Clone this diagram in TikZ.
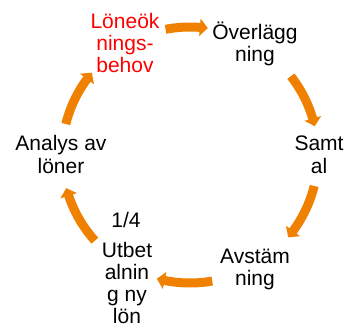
\documentclass[tikz,border=0pt]{standalone}
\usepackage{fontspec}
\setmainfont{Liberation Sans}
\usetikzlibrary{arrows.meta,bending}
\definecolor{arroworange}{RGB}{240,128,0}
\definecolor{labelred}{RGB}{255,0,0}
\begin{document}
\begin{tikzpicture}[x=1pt,y=1pt,
  lbl/.style={align=center,inner sep=0pt,anchor=base,font=\fontsize{21}{22}\selectfont},
  cyc/.style={draw=arroworange,line width=9pt,
    -{Triangle[width=17pt,length=8pt,bend]}}]
\useasboundingbox (0,0) rectangle (347,324);
\coordinate (C) at (190,169);
% text nodes (anchored at the baseline of the last line)
\node[lbl,text=labelred] (need) at (125,251) {Löneök\\nings-\\behov};
\node[lbl] (meet) at (255,262) {Överlägg\\ning};
\node[lbl] (talk) at (319,151) {Samt\\al};
\node[lbl] (match) at (255,39) {Avstäm\\ning};
\node[lbl] (frac) at (126,97) {1/4};
\node[lbl] (pay) at (127,1) {Utbet\\alnin\\g ny\\lön};
\node[lbl] (anal) at (61,151) {Analys av\\löner};
% arrow tails
\path (C) ++(101:128) coordinate (a1)
      (C) ++(38:128) coordinate (a2)
      (C) ++(-14:128) coordinate (a3)
      (C) ++(-80:128) coordinate (a4)
      (C) ++(-138:128) coordinate (a5)
      (C) ++(166:128) coordinate (a6);
\draw[cyc] (a1) arc[start angle=101,end angle=82,radius=128];
\draw[cyc] (a2) arc[start angle=38,end angle=13,radius=128];
\draw[cyc] (a3) arc[start angle=-14,end angle=-40,radius=128];
\draw[cyc] (a4) arc[start angle=-80,end angle=-105,radius=128];
\draw[cyc] (a5) arc[start angle=-138,end angle=-165,radius=128];
\draw[cyc] (a6) arc[start angle=166,end angle=140,radius=128];
\end{tikzpicture}
\end{document}
